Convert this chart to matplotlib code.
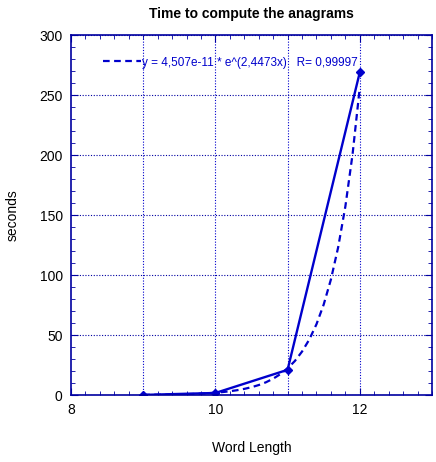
import matplotlib
matplotlib.use("Agg")
import matplotlib.pyplot as plt
from matplotlib.ticker import MultipleLocator

plt.rcParams['font.family'] = ['Liberation Sans', 'DejaVu Sans']

# measured times (seconds) per word length
word_length = [9, 10, 11, 12]
seconds = [0.1, 1.7, 21.0, 269.0]

# exponential fit curve
fit_x = [9.0, 9.1, 9.2, 9.3, 9.4, 9.5, 9.6, 9.7, 9.8, 9.9,
         10.0, 10.1, 10.2, 10.3, 10.4, 10.5, 10.6, 10.7, 10.8, 10.9,
         11.0, 11.1, 11.2, 11.3, 11.4, 11.5, 11.6, 11.7, 11.8, 11.9, 12.0]
fit_y = [0.17, 0.21, 0.27, 0.35, 0.44, 0.56, 0.72, 0.92, 1.18, 1.5,
         1.92, 2.45, 3.13, 4.0, 5.1, 6.5, 8.3, 10.6, 13.6, 17.4,
         22.2, 28.3, 36.2, 46.2, 59.0, 75.4, 96.3, 123.0, 157.1, 200.7, 256.3]
fit_label = "y = 4,507e-11 * e^(2,4473x)   R= 0,99997"

blue = '#0000cc'
frame = '#0000a0'

fig = plt.figure(figsize=(4.36, 4.62), dpi=100)
ax = fig.add_axes([0.1628, 0.145, 0.828, 0.779])

ax.plot(fit_x, fit_y, '--', color=blue, lw=1.6, dashes=(3, 2), label=fit_label)
ax.plot(word_length, seconds, '-', color=blue, lw=1.7, marker='D', ms=4.5)

ax.set_xlim(8, 13)
ax.set_ylim(0, 300)
ax.xaxis.set_major_locator(MultipleLocator(2))
ax.xaxis.set_minor_locator(MultipleLocator(0.2))
ax.yaxis.set_major_locator(MultipleLocator(50))
ax.yaxis.set_minor_locator(MultipleLocator(10))

# grid at every integer word length and every 50 s
for gx in [9, 10, 11, 12]:
    ax.axvline(gx, color=blue, lw=0.8, ls=(0, (1, 1.5)), zorder=0)
ax.yaxis.grid(True, color=frame, lw=0.8, ls=(0, (1, 1.5)))

ax.tick_params(which='both', direction='in', top=True, right=True,
               color=frame, labelsize=10, pad=6)
ax.tick_params(which='major', length=5)
ax.tick_params(which='minor', length=3)
for s in ax.spines.values():
    s.set_color(frame)
    s.set_linewidth(1.2)

ax.set_title("Time to compute the anagrams", fontsize=10, fontweight='bold', pad=12)
ax.set_xlabel("Word Length", fontsize=10, labelpad=17)
ax.set_ylabel("seconds", fontsize=10, labelpad=14)

leg = ax.legend(loc='upper left', bbox_to_anchor=(0.06, 0.97), frameon=False,
                fontsize=8.5, handlelength=3.2, handletextpad=0.1, labelcolor=blue)

fig.savefig("out.png", dpi=100)
